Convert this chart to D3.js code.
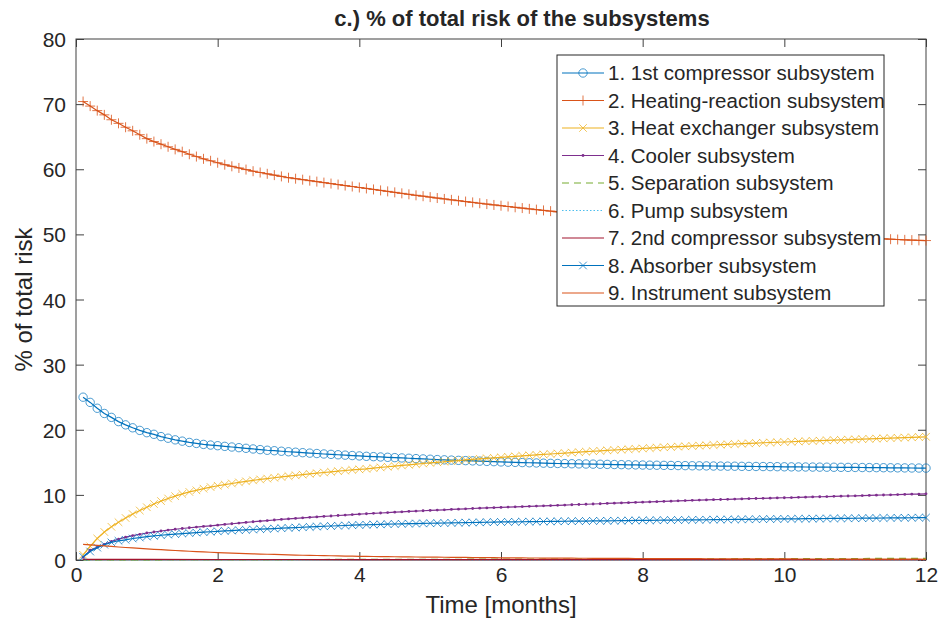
<!DOCTYPE html>
<html>
<head>
<meta charset="utf-8">
<script src="https://cdn.jsdelivr.net/npm/d3@7"></script>
<style>
  body { margin: 0; background: #fff; }
  svg { display: block; }
  text { font-family: "Liberation Sans", Arial, Helvetica, sans-serif; fill: #262626; }
</style>
</head>
<body>
<svg id="chart" width="941" height="630"></svg>
<script>
// Time axis (months), one sample every 0.1 month
const months = [
  0.1,0.2,0.3,0.4,0.5,0.6,0.7,0.8,0.9,1.0,
  1.1,1.2,1.3,1.4,1.5,1.6,1.7,1.8,1.9,2.0,
  2.1,2.2,2.3,2.4,2.5,2.6,2.7,2.8,2.9,3.0,
  3.1,3.2,3.3,3.4,3.5,3.6,3.7,3.8,3.9,4.0,
  4.1,4.2,4.3,4.4,4.5,4.6,4.7,4.8,4.9,5.0,
  5.1,5.2,5.3,5.4,5.5,5.6,5.7,5.8,5.9,6.0,
  6.1,6.2,6.3,6.4,6.5,6.6,6.7,6.8,6.9,7.0,
  7.1,7.2,7.3,7.4,7.5,7.6,7.7,7.8,7.9,8.0,
  8.1,8.2,8.3,8.4,8.5,8.6,8.7,8.8,8.9,9.0,
  9.1,9.2,9.3,9.4,9.5,9.6,9.7,9.8,9.9,10.0,
  10.1,10.2,10.3,10.4,10.5,10.6,10.7,10.8,10.9,11.0,
  11.1,11.2,11.3,11.4,11.5,11.6,11.7,11.8,11.9,12.0
];
// Coarse time grid for the near-zero subsystems
const monthsCoarse = [0.1,1,2,3,4,5,6,7,8,9,10,11,12];

// % of total risk per subsystem
const compressor1 = [
  25.0,24.2,23.3,22.5,21.9,21.25,20.75,20.3,19.9,19.55,
  19.3,18.95,18.7,18.45,18.25,18.05,17.9,17.75,17.65,17.55,
  17.45,17.35,17.25,17.15,17.05,16.95,16.85,16.78,16.7,16.62,
  16.55,16.48,16.41,16.35,16.28,16.22,16.16,16.1,16.04,15.98,
  15.92,15.87,15.82,15.77,15.72,15.67,15.62,15.57,15.52,15.47,
  15.42,15.38,15.34,15.3,15.26,15.22,15.18,15.14,15.1,15.06,
  15.02,14.99,14.96,14.93,14.9,14.87,14.84,14.82,14.8,14.78,
  14.76,14.74,14.72,14.7,14.68,14.66,14.64,14.62,14.6,14.58,
  14.56,14.55,14.53,14.52,14.5,14.49,14.47,14.46,14.45,14.43,
  14.42,14.41,14.4,14.38,14.37,14.36,14.35,14.34,14.33,14.31,
  14.3,14.29,14.28,14.27,14.26,14.25,14.24,14.23,14.22,14.21,
  14.2,14.19,14.18,14.17,14.16,14.15,14.14,14.13,14.12,14.11
];
const heatingReaction = [
  70.4,69.7,69.0,68.35,67.6,67.05,66.45,65.9,65.3,64.7,
  64.25,63.85,63.45,63.05,62.7,62.3,61.95,61.6,61.3,61.0,
  60.7,60.45,60.2,59.95,59.7,59.5,59.3,59.1,58.9,58.7,
  58.55,58.4,58.25,58.1,57.95,57.8,57.65,57.5,57.35,57.2,
  57.05,56.9,56.75,56.6,56.45,56.3,56.15,56.0,55.86,55.72,
  55.58,55.44,55.3,55.17,55.04,54.91,54.78,54.65,54.52,54.4,
  54.28,54.16,54.04,53.92,53.8,53.68,53.57,53.46,53.35,53.24,
  53.13,53.02,52.91,52.8,52.7,52.6,52.5,52.4,52.3,52.2,
  52.1,52.0,51.9,51.8,51.7,51.6,51.5,51.41,51.32,51.23,
  51.14,51.05,50.96,50.87,50.78,50.69,50.6,50.51,50.42,50.33,
  50.25,50.17,50.09,50.01,49.93,49.85,49.77,49.7,49.63,49.56,
  49.49,49.43,49.37,49.31,49.26,49.21,49.16,49.12,49.08,49.05
];
const heatExchanger = [
  0.8,2.1,3.3,4.3,5.1,5.8,6.45,7.05,7.6,8.1,
  8.6,9.05,9.45,9.8,10.15,10.45,10.7,10.95,11.2,11.4,
  11.58,11.75,11.92,12.08,12.23,12.37,12.5,12.63,12.76,12.88,
  13.0,13.11,13.22,13.33,13.44,13.54,13.64,13.74,13.83,13.92,
  14.0,14.11,14.22,14.32,14.42,14.52,14.62,14.72,14.82,14.91,
  15.0,15.09,15.18,15.27,15.36,15.44,15.52,15.6,15.68,15.76,
  15.84,15.92,16.0,16.07,16.14,16.21,16.28,16.35,16.42,16.49,
  16.56,16.63,16.7,16.77,16.83,16.89,16.95,17.01,17.07,17.13,
  17.19,17.25,17.31,17.36,17.41,17.46,17.51,17.56,17.61,17.66,
  17.71,17.76,17.81,17.86,17.91,17.96,18.0,18.04,18.08,18.12,
  18.16,18.2,18.24,18.28,18.32,18.36,18.4,18.44,18.48,18.52,
  18.56,18.6,18.64,18.68,18.72,18.76,18.8,18.84,18.88,18.92
];
const cooler = [
  0.4,1.5,1.95,2.4,2.85,3.2,3.5,3.75,3.95,4.15,
  4.3,4.45,4.6,4.72,4.84,4.95,5.05,5.15,5.25,5.35,
  5.46,5.57,5.67,5.77,5.87,5.96,6.05,6.14,6.23,6.31,
  6.39,6.47,6.55,6.62,6.69,6.76,6.83,6.9,6.97,7.04,
  7.1,7.16,7.22,7.28,7.34,7.4,7.46,7.51,7.56,7.61,
  7.66,7.71,7.76,7.81,7.86,7.91,7.96,8.0,8.04,8.08,
  8.12,8.16,8.2,8.24,8.28,8.32,8.36,8.4,8.44,8.48,
  8.52,8.56,8.6,8.64,8.68,8.72,8.76,8.8,8.84,8.88,
  8.92,8.96,9.0,9.04,9.08,9.12,9.16,9.2,9.23,9.26,
  9.29,9.32,9.35,9.38,9.41,9.44,9.47,9.5,9.53,9.56,
  9.59,9.62,9.65,9.68,9.71,9.74,9.77,9.8,9.83,9.86,
  9.89,9.92,9.95,9.98,10.01,10.04,10.07,10.1,10.13,10.16
];
const separation = [0.01,0.03,0.05,0.07,0.09,0.11,0.13,0.15,0.17,0.19,0.21,0.23,0.25];
const pump = [0.05,0.05,0.04,0.04,0.04,0.04,0.03,0.03,0.03,0.03,0.03,0.03,0.03];
const compressor2 = [0.1,0.09,0.08,0.08,0.07,0.07,0.07,0.06,0.06,0.06,0.06,0.05,0.05];
const absorber = [
  0.5,1.3,1.9,2.35,2.7,2.95,3.1,3.3,3.45,3.6,
  3.7,3.8,3.9,3.98,4.06,4.14,4.21,4.28,4.34,4.4,
  4.46,4.52,4.58,4.63,4.68,4.73,4.78,4.83,4.88,4.93,
  4.98,5.03,5.08,5.13,5.18,5.22,5.26,5.3,5.34,5.38,
  5.41,5.44,5.47,5.5,5.53,5.56,5.58,5.6,5.62,5.64,
  5.66,5.68,5.7,5.72,5.74,5.76,5.78,5.8,5.82,5.84,
  5.85,5.86,5.87,5.89,5.9,5.91,5.92,5.94,5.95,5.96,
  5.97,5.98,6.0,6.01,6.02,6.03,6.04,6.06,6.07,6.08,
  6.09,6.1,6.11,6.13,6.14,6.15,6.16,6.17,6.18,6.2,
  6.21,6.22,6.23,6.24,6.25,6.26,6.27,6.29,6.3,6.31,
  6.32,6.33,6.34,6.35,6.36,6.37,6.38,6.39,6.4,6.41,
  6.42,6.43,6.44,6.45,6.46,6.47,6.48,6.49,6.5,6.51
];
const instrument = [
  2.4,2.32,2.24,2.16,2.08,2.0,1.92,1.85,1.78,1.71,
  1.64,1.58,1.52,1.46,1.4,1.34,1.29,1.24,1.19,1.14,
  1.1,1.06,1.02,0.98,0.94,0.91,0.88,0.85,0.82,0.79,
  0.76,0.73,0.71,0.69,0.67,0.65,0.63,0.61,0.59,0.57,
  0.55,0.54,0.52,0.51,0.5,0.48,0.47,0.46,0.45,0.44,
  0.43,0.42,0.41,0.4,0.39,0.38,0.37,0.36,0.35,0.34,
  0.33,0.33,0.32,0.31,0.31,0.3,0.29,0.29,0.28,0.28,
  0.27,0.27,0.26,0.26,0.25,0.25,0.24,0.24,0.23,0.23,
  0.22,0.22,0.22,0.21,0.21,0.2,0.2,0.2,0.19,0.19,
  0.19,0.18,0.18,0.18,0.17,0.17,0.17,0.16,0.16,0.16,
  0.16,0.15,0.15,0.15,0.15,0.14,0.14,0.14,0.14,0.13,
  0.13,0.13,0.13,0.13,0.12,0.12,0.12,0.12,0.12,0.11
];

const seriesNames = [
  "1. 1st compressor subsystem",
  "2. Heating-reaction subsystem",
  "3. Heat exchanger subsystem",
  "4. Cooler subsystem",
  "5. Separation subsystem",
  "6. Pump subsystem",
  "7. 2nd compressor subsystem",
  "8. Absorber subsystem",
  "9. Instrument subsystem"
];
const xTicks = [0, 2, 4, 6, 8, 10, 12];
const yTicks = [0, 10, 20, 30, 40, 50, 60, 70, 80];
const titleText = "c.) % of total risk of the subsystems";
const xLabel = "Time [months]";
const yLabel = "% of total risk";

const series = [
  { name: seriesNames[0], t: months, v: compressor1, color: "#0072BD", marker: "o" },
  { name: seriesNames[1], t: months, v: heatingReaction, color: "#D95319", marker: "+" },
  { name: seriesNames[2], t: months, v: heatExchanger, color: "#EDB120", marker: "x" },
  { name: seriesNames[3], t: months, v: cooler, color: "#7E2F8E", marker: "." },
  { name: seriesNames[4], t: monthsCoarse, v: separation, color: "#77AC30", dash: "7,5" },
  { name: seriesNames[5], t: monthsCoarse, v: pump, color: "#4DBEEE", dash: "1.5,2" },
  { name: seriesNames[6], t: monthsCoarse, v: compressor2, color: "#A2142F" },
  { name: seriesNames[7], t: months, v: absorber, color: "#0072BD", marker: "x" },
  { name: seriesNames[8], t: months, v: instrument, color: "#D95319" }
];

const svg = d3.select("#chart");
const plotL = 76, plotR = 926, plotT = 39, plotB = 560;
const x = d3.scaleLinear().domain([0, 12]).range([plotL, plotR]);
const y = d3.scaleLinear().domain([0, 80]).range([plotB, plotT]);
const axisColor = "#404040";
const tickLen = 8;

// Axes with inward ticks on all four sides
const gx = svg.append("g").attr("transform", `translate(0,${plotB})`)
  .call(d3.axisBottom(x).tickValues(xTicks).tickSize(-tickLen).tickPadding(7).tickFormat(d3.format("d")));
const gxTop = svg.append("g").attr("transform", `translate(0,${plotT})`)
  .call(d3.axisTop(x).tickValues(xTicks).tickSize(-tickLen).tickFormat(""));
const gy = svg.append("g").attr("transform", `translate(${plotL},0)`)
  .call(d3.axisLeft(y).tickValues(yTicks).tickSize(-tickLen).tickPadding(10).tickFormat(d3.format("d")));
const gyRight = svg.append("g").attr("transform", `translate(${plotR},0)`)
  .call(d3.axisRight(y).tickValues(yTicks).tickSize(-tickLen).tickFormat(""));
[gx, gxTop, gy, gyRight].forEach(g => {
  g.select(".domain").remove();
  g.selectAll(".tick line").attr("stroke", axisColor).attr("stroke-width", 1);
  g.selectAll(".tick text").style("font-size", "21px").attr("fill", "#262626");
});
gy.selectAll(".tick text").attr("dy", "0.36em");

svg.append("rect")
  .attr("x", plotL).attr("y", plotT)
  .attr("width", plotR - plotL).attr("height", plotB - plotT)
  .attr("fill", "none").attr("stroke", axisColor).attr("stroke-width", 1);

// Marker glyphs
function drawMarker(g, kind, cx, cy, color) {
  if (kind === "o") {
    g.append("circle").attr("cx", cx).attr("cy", cy).attr("r", 4.2)
      .attr("fill", "none").attr("stroke", color).attr("stroke-width", 1).attr("stroke-opacity", 0.7);
  } else if (kind === "+") {
    const s = 5;
    g.append("path").attr("d", `M${cx - s},${cy}H${cx + s}M${cx},${cy - s}V${cy + s}`)
      .attr("stroke", color).attr("stroke-width", 1).attr("stroke-opacity", 0.8);
  } else if (kind === "x") {
    const s = 3.8;
    g.append("path").attr("d", `M${cx - s},${cy - s}L${cx + s},${cy + s}M${cx - s},${cy + s}L${cx + s},${cy - s}`)
      .attr("stroke", color).attr("stroke-width", 1).attr("stroke-opacity", 0.75);
  } else if (kind === ".") {
    g.append("circle").attr("cx", cx).attr("cy", cy).attr("r", 1.4).attr("fill", color);
  }
}

const line = d3.line().x(d => x(d[0])).y(d => y(d[1]));
const plot = svg.append("g");
series.forEach(s => {
  const pts = s.t.map((t, i) => [t, s.v[i]]);
  const g = plot.append("g");
  g.append("path").attr("d", line(pts))
    .attr("fill", "none").attr("stroke", s.color).attr("stroke-width", 1.2)
    .attr("stroke-dasharray", s.dash || null);
  if (s.marker) pts.forEach(p => drawMarker(g, s.marker, x(p[0]), y(p[1]), s.color));
});

// Title and axis labels
svg.append("text").attr("x", 522).attr("y", 26).attr("text-anchor", "middle")
  .style("font-size", "22px").style("font-weight", "bold").attr("fill", "#000").text(titleText);
svg.append("text").attr("x", (plotL + plotR) / 2).attr("y", 613).attr("text-anchor", "middle")
  .style("font-size", "24px").text(xLabel);
svg.append("text").attr("transform", `translate(32,${(plotT + plotB) / 2}) rotate(-90)`)
  .attr("text-anchor", "middle").style("font-size", "24px").text(yLabel);

// Legend
const lg = svg.append("g");
const lgX = 557, lgY = 55, lgW = 327, lgH = 251, rowH = 27.5;
lg.append("rect").attr("x", lgX).attr("y", lgY).attr("width", lgW).attr("height", lgH)
  .attr("fill", "#fff").attr("stroke", "#262626").attr("stroke-width", 1);
series.forEach((s, i) => {
  const cy = lgY + 18 + i * rowH;
  const row = lg.append("g");
  row.append("line").attr("x1", lgX + 5).attr("x2", lgX + 47).attr("y1", cy).attr("y2", cy)
    .attr("stroke", s.color).attr("stroke-width", 1.2).attr("stroke-dasharray", s.dash || null);
  if (s.marker) drawMarker(row, s.marker, lgX + 26, cy, s.color);
  row.append("text").attr("x", lgX + 51).attr("y", cy).attr("dy", "0.36em")
    .style("font-size", "20.5px").text(s.name);
});
</script>
</body>
</html>
